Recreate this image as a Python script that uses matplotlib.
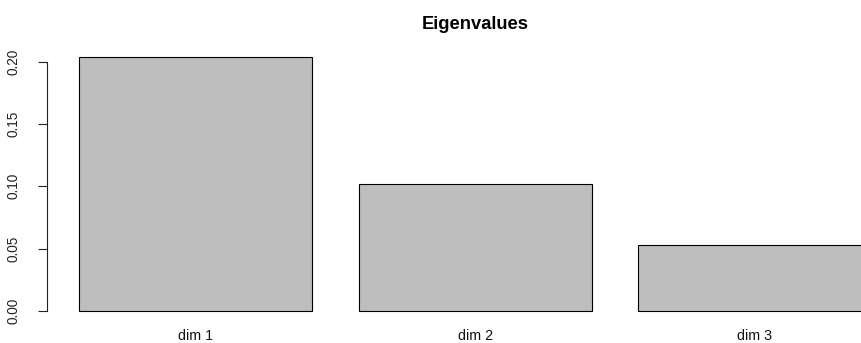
import matplotlib
matplotlib.use("Agg")
import matplotlib.pyplot as plt

categories = ["dim 1", "dim 2", "dim 3"]
eigenvalues = [0.2043, 0.1019, 0.0531]
y_ticks = [0.00, 0.05, 0.10, 0.15, 0.20]
y_tick_labels = ["0.00", "0.05", "0.10", "0.15", "0.20"]

plt.rcParams['font.family'] = ['Liberation Sans', 'DejaVu Sans']

W, H = 862, 343
fig = plt.figure(figsize=(W / 100, H / 100), dpi=100)
# plot region (pixels) : left 47.3, right 903 (beyond image), top 46.5, bottom 320.9
left_px, right_px, top_px, bot_px = 47.3, 903.0, 46.5, 320.9
ax = fig.add_axes([left_px / W, 1 - bot_px / H, (right_px - left_px) / W, (bot_px - top_px) / H])

width = 1.0
space = 0.2
centers = [space * (i + 1) + width * i + width / 2 for i in range(len(categories))]
ax.bar(centers, eigenvalues, width=width, color="#BEBEBE", edgecolor="black", linewidth=0.8)

xmin = space
xmax = centers[-1] + width / 2
xr = xmax - xmin
ax.set_xlim(xmin - 0.04 * xr, xmax + 0.04 * xr)
ymax = max(eigenvalues)
ax.set_ylim(-0.04 * ymax, ymax * 1.04)

for s in ["top", "right", "bottom"]:
    ax.spines[s].set_visible(False)
ax.spines["left"].set_bounds(y_ticks[0], y_ticks[-1])
ax.spines["left"].set_linewidth(0.8)
ax.spines["left"].set_color("#222222")

ax.set_yticks(y_ticks)
ax.set_yticklabels(y_tick_labels, rotation=90, va="center", fontsize=9.8, color="#222222")
ax.tick_params(axis="y", direction="out", length=6.5, width=0.8, pad=13, color="#222222")

ax.set_xticks(centers)
ax.set_xticklabels(categories, fontsize=10.3, color="#111111")
ax.tick_params(axis="x", length=0, pad=6)

ax.set_title("Eigenvalues", fontsize=13.2, fontweight="bold", pad=12.5)

fig.savefig("out.png", dpi=100)
